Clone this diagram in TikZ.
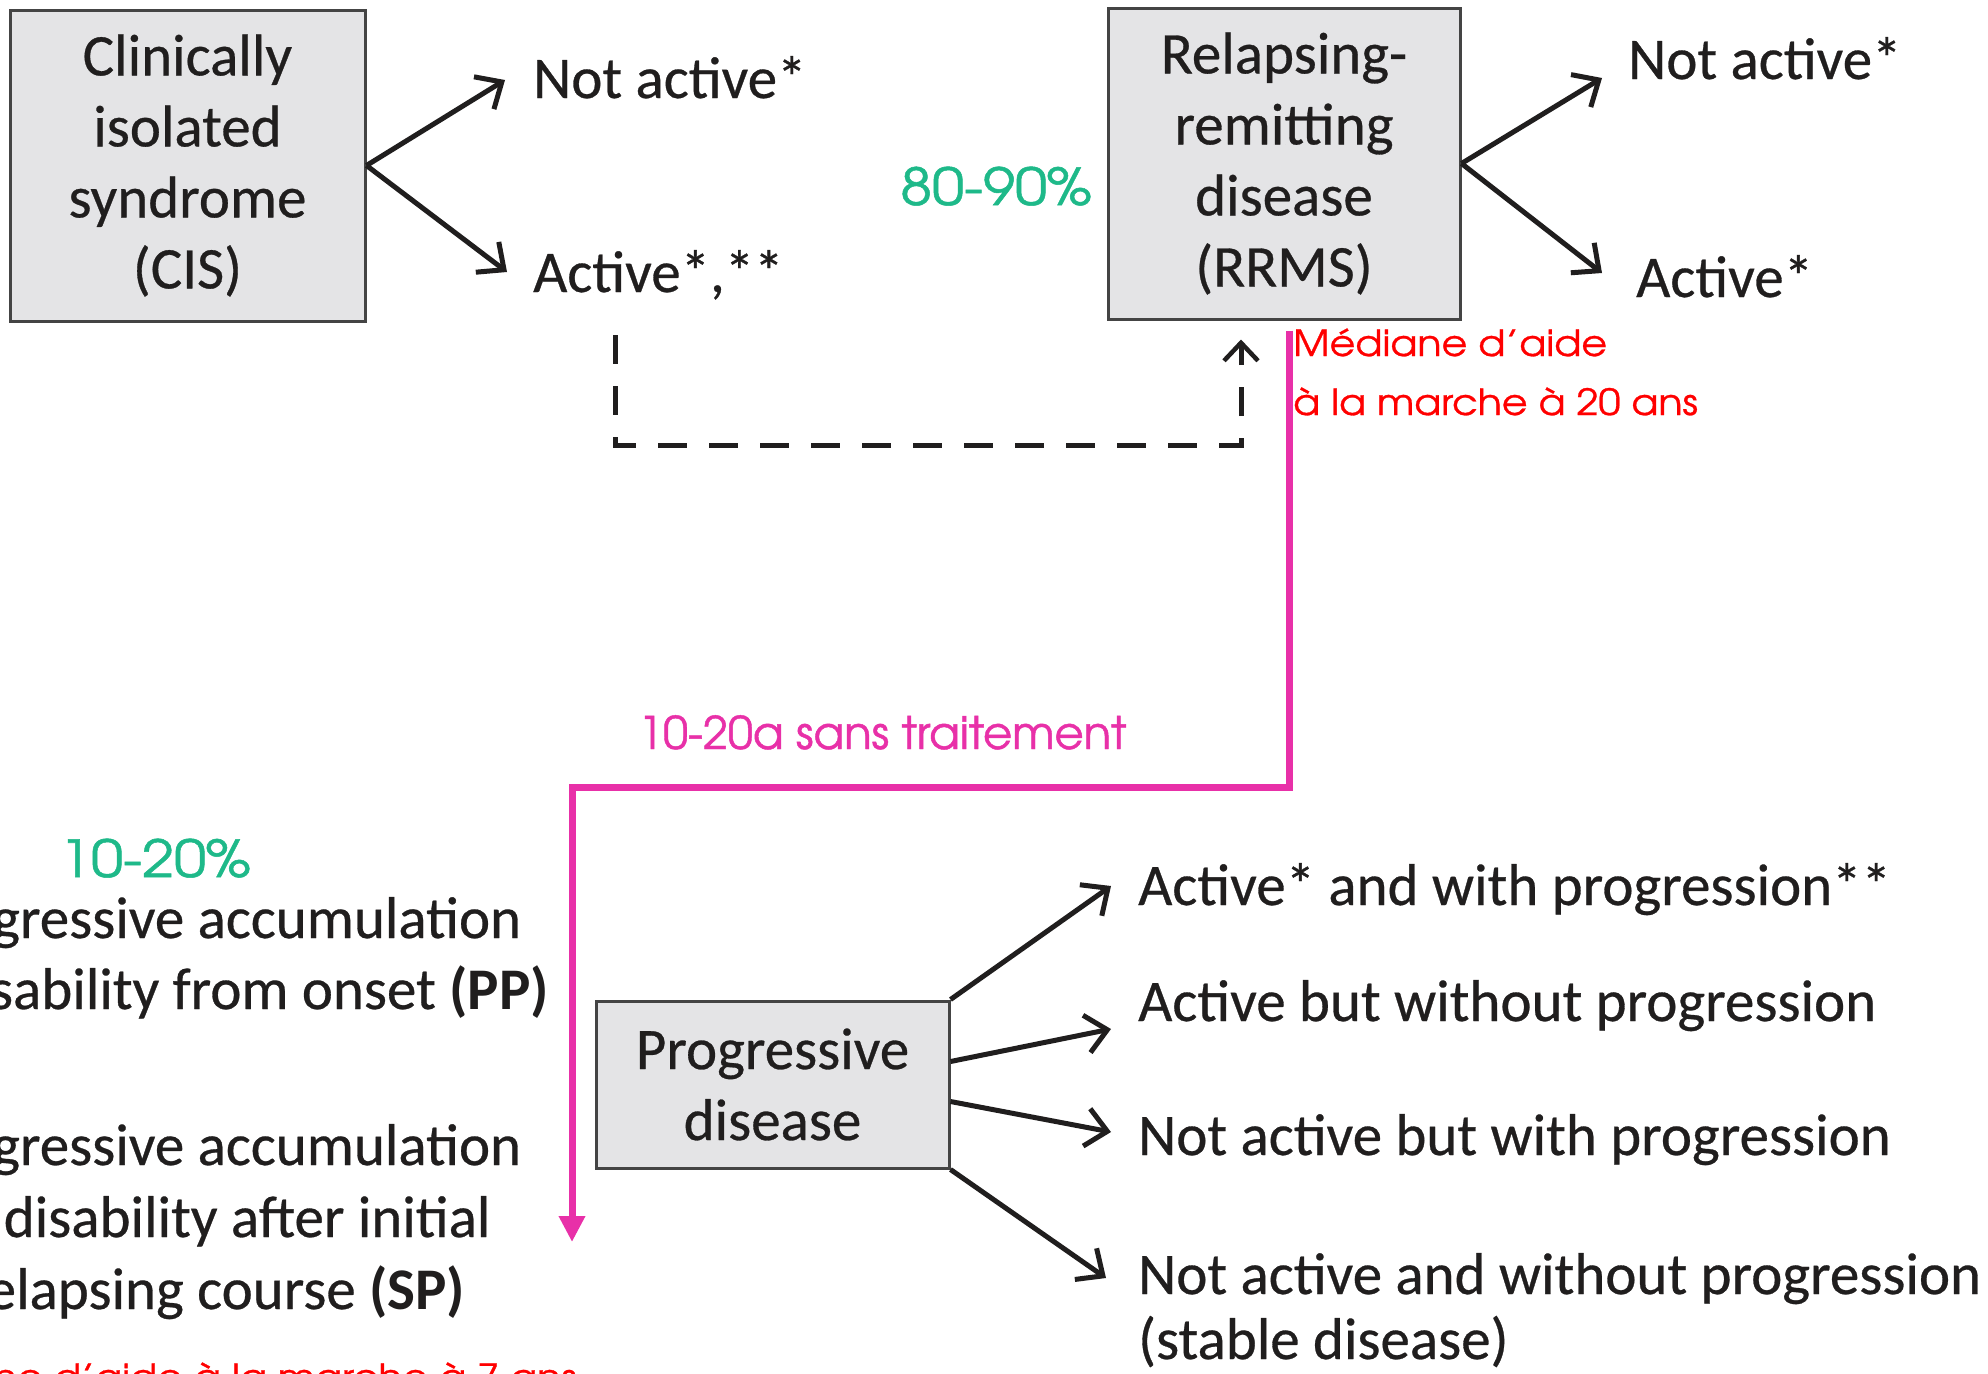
\documentclass[tikz,border=0pt]{standalone}
\usepackage{fontspec}
\setmainfont{Carlito}[UprightFeatures={FakeBold=0.5}]
\newfontfamily\geo{texgyreadventor-regular.otf}[FakeBold=1]
\newfontfamily\geowide{texgyreadventor-regular.otf}[FakeStretch=1.13,FakeBold=1]
\newfontfamily\geonote{texgyreadventor-regular.otf}[FakeStretch=1.10,FakeBold=0.8]
\usetikzlibrary{arrows.meta,calc}

\definecolor{ink}{RGB}{32,30,30}
\definecolor{boxfill}{RGB}{228,228,230}
\definecolor{boxline}{RGB}{68,68,68}
\definecolor{pctgreen}{RGB}{30,185,137}
\definecolor{trackpink}{RGB}{232,48,168}
\definecolor{notered}{RGB}{255,0,0}

\tikzset{
  stage/.style={draw=boxline, line width=3pt, fill=boxfill, align=center,
    inner sep=0pt, text=ink, font=\fontsize{59}{71}\selectfont},
  outcome/.style={anchor=base west, inner sep=0pt, text=ink,
    font=\fontsize{59}{66}\selectfont},
  course/.style={anchor=base, inner sep=0pt, text=ink,
    font=\fontsize{59}{71}\selectfont},
  branch/.style={draw=ink, line width=5pt,
    -{Straight Barb[length=21pt,width=38pt]}},
  dashlink/.style={draw=ink, line width=5pt, dash pattern=on 29pt off 22pt,
    -{Straight Barb[length=18pt,width=34pt,line width=4.5pt]}},
  track/.style={draw=trackpink, line width=7pt,
    -{Triangle[length=26pt,width=25pt]}},
  pct/.style={anchor=base west, inner sep=0pt, text=pctgreen,
    font=\geowide\fontsize{51}{60}\selectfont},
  tracklabel/.style={anchor=base west, inner sep=0pt, text=trackpink,
    font=\geo\fontsize{45}{54}\selectfont},
  note/.style={inner sep=0pt, text=notered,
    font=\geonote\fontsize{36}{46}\selectfont},
}

\begin{document}
\begin{tikzpicture}[x=1pt,y=-1pt]
  \useasboundingbox (0,0) rectangle (1988,1373);
  \fill[white] (0,0) rectangle (1988,1373);
  \clip (0,0) rectangle (1988,1373);

  % stages
  \node[stage, minimum width=355pt, minimum height=311pt] (cis) at (187.5,165.5)
    {Clinically\\isolated\\syndrome\\(CIS)};
  \node[stage, minimum width=352pt, minimum height=311pt] (rrms) at (1284,163.5)
    {Relapsing-\\remitting\\disease\\(RRMS)};
  \node[stage, minimum width=353pt, minimum height=167pt] (prog) at (772.5,1084.5)
    {Progressive\\disease};

  % activity outcomes
  \node[outcome] (na1) at (533,98) {Not active*};
  \node[outcome] (a1)  at (533,292) {Active*,**};
  \node[outcome] (na2) at (1628,79) {Not active*};
  \node[outcome] (a2)  at (1636,297) {Active*};
  \node[outcome] (p1) at (1138,905) {Active* and with progression**};
  \node[outcome] (p2) at (1138,1021) {Active but without progression};
  \node[outcome] (p3) at (1138,1155) {Not active but with progression};
  \node[outcome] (p4) at (1138,1294) {Not active and without progression};
  \node[outcome] (p4b) at (1138,1359) {(stable disease)};

  % progressive courses
  \node[course] (pp1) at (216,938) {Progressive accumulation};
  \node[course] (pp2) at (216,1009) {of disability from onset \textbf{(PP)}};
  \node[course] (sp1) at (216,1165) {Progressive accumulation};
  \node[course] (sp2) at (216,1237) {of disability after initial};
  \node[course] (sp3) at (216,1309) {relapsing course \textbf{(SP)}};

  % branches
  \draw[branch] (cis.east) -- ($(na1.base west)+(-28,-18)$);
  \draw[branch] (cis.east) -- ($(a1.base west)+(-26,-20)$);
  \draw[branch] (rrms.east) -- ($(na2.base west)+(-26,-1)$);
  \draw[branch] (rrms.east) -- ($(a2.base west)+(-34,-24)$);
  \draw[branch] (prog.north east) -- ($(p1.base west)+(-27,-19)$);
  \draw[branch] ($(prog.east)+(0,-23)$) -- ($(p2.base west)+(-27,8)$);
  \draw[branch] ($(prog.east)+(0,17)$) -- ($(p3.base west)+(-27,-23)$);
  \draw[branch] (prog.south east) -- ($(p4.base west)+(-32,-16)$);

  % CIS to RRMS
  \coordinate (d0) at ($(a1.base west)+(82,43)$);
  \coordinate (d1) at ($(rrms.south)+(-43,19)$);
  \draw[dashlink] (d0) -- ++(0,110) -| (d1);

  % RRMS to progressive course
  \coordinate (m0) at ($(rrms.south)+(5,10)$);
  \coordinate (m1) at (572,1242);
  \draw[track] (m0) -- ++(0,457) -| (m1);

  % annotations
  \node[pct] (g1) at (900,205) {80-90\%};
  \node[pct] (g2) at (59,877) {10-20\%};
  \node[tracklabel] (t1) at (638,749) {10-20a sans traitement};
  \node[note, anchor=base west] (r1) at (1293,356) {Médiane d’aide};
  \node[note, anchor=base west] (r2) at (1293,415) {à la marche à 20 ans};
  \node[note, anchor=base east] (r3) at (577,1390) {Médiane d’aide à la marche à 7 ans};
\end{tikzpicture}
\end{document}
